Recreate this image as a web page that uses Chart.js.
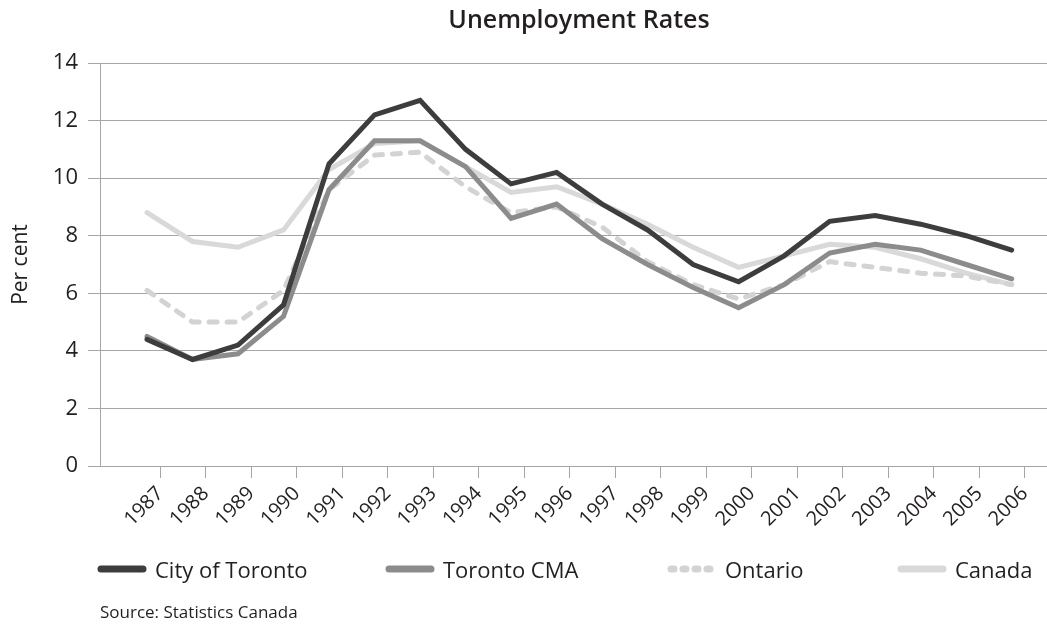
<!DOCTYPE html>
<html>
<head>
<meta charset="utf-8">
<title>Unemployment Rates</title>
<script src="https://cdn.jsdelivr.net/npm/chart.js@4.4.1/dist/chart.umd.min.js"></script>
<style>
    body { margin: 0; background: #fff; font-family: "Open Sans", sans-serif; color: #231f20; }
    .wrap { position: relative; width: 1047px; height: 624px; }
    #chartTitle { position: absolute; left: 111px; right: 0; top: 3px; text-align: center; font-size: 25px; font-weight: 600; line-height: 30px; }
    #legend { position: absolute; left: 97px; top: 554px; display: grid; grid-template-columns: 288px 282px 230px auto; }
    .legend-item { display: flex; align-items: center; font-size: 22px; line-height: 30px; white-space: nowrap; }
    .legend-item svg { margin-right: 8px; }
    #source { position: absolute; left: 100px; top: 600px; font-size: 17px; line-height: 24px; }
</style>
</head>
<body>
<div class="wrap">
    <canvas id="myChart" width="1047" height="624"></canvas>
    <div id="chartTitle">Unemployment Rates</div>
    <div id="legend"></div>
    <div id="source">Source: Statistics Canada</div>
</div>

<script>
    const years = [1987, 1988, 1989, 1990, 1991, 1992, 1993, 1994, 1995, 1996,
                   1997, 1998, 1999, 2000, 2001, 2002, 2003, 2004, 2005, 2006];
    const cityOfToronto = [4.4, 3.7, 4.2, 5.6, 10.5, 12.2, 12.7, 11.0, 9.8, 10.2,
                           9.1, 8.2, 7.0, 6.4, 7.3, 8.5, 8.7, 8.4, 8.0, 7.5];
    const torontoCMA = [4.5, 3.7, 3.9, 5.2, 9.6, 11.3, 11.3, 10.4, 8.6, 9.1,
                        7.9, 7.0, 6.2, 5.5, 6.3, 7.4, 7.7, 7.5, 7.0, 6.5];
    const ontario = [6.1, 5.0, 5.0, 6.1, 9.6, 10.8, 10.9, 9.7, 8.8, 9.0,
                     8.3, 7.1, 6.3, 5.8, 6.3, 7.1, 6.9, 6.7, 6.6, 6.3];
    const canada = [8.8, 7.8, 7.6, 8.2, 10.3, 11.2, 11.3, 10.4, 9.5, 9.7,
                    9.1, 8.4, 7.6, 6.9, 7.3, 7.7, 7.6, 7.2, 6.7, 6.3];
    const yTicks = [0, 2, 4, 6, 8, 10, 12, 14];

    // the year labels/ticks sit a little right of the data points in the original
    const TICK_SHIFT = 0.29;
    const GRID = '#a6a6a6';
    const TEXT = '#231f20';

    function points(values) {
        return values.map(function (v, i) { return { x: years[i], y: v }; });
    }

    function line(label, values, color, dash) {
        return {
            label: label,
            data: points(values),
            borderColor: color,
            backgroundColor: color,
            borderWidth: 5,
            borderDash: dash || [],
            borderCapStyle: 'round',
            pointRadius: 0,
            tension: 0,
            fill: false
        };
    }

    Chart.defaults.font.family = '"Open Sans", sans-serif';
    Chart.defaults.color = TEXT;

    var ctx = document.getElementById('myChart').getContext('2d');
    var myChart = new Chart(ctx, {
        type: 'line',
        data: {
            datasets: [
                line('City of Toronto', cityOfToronto, '#3d3d3d'),
                line('Toronto CMA', torontoCMA, '#8c8c8c'),
                line('Ontario', ontario, '#d3d3d3', [8, 10]),
                line('Canada', canada, '#d9d9d9')
            ]
        },
        options: {
            responsive: false,
            animation: false,
            layout: { padding: { top: 63, right: 0, bottom: 88, left: 0 } },
            plugins: {
                legend: { display: false },
                title: { display: false },
                tooltip: { enabled: false }
            },
            scales: {
                x: {
                    type: 'linear',
                    min: 1985.967,
                    max: 2006.776,
                    afterBuildTicks: function (scale) {
                        scale.ticks = years.map(function (y) { return { value: y + TICK_SHIFT }; });
                    },
                    afterFit: function (scale) { scale.height = 70; },
                    grid: { drawOnChartArea: false, drawTicks: true, tickLength: 12, color: GRID },
                    border: { color: GRID },
                    ticks: {
                        autoSkip: false,
                        minRotation: 45,
                        maxRotation: 45,
                        padding: 4,
                        font: { size: 20 },
                        callback: function (value, index) { return String(years[index]); }
                    }
                },
                y: {
                    min: yTicks[0],
                    max: yTicks[yTicks.length - 1],
                    afterFit: function (scale) { scale.width = 100; },
                    afterBuildTicks: function (scale) {
                        scale.ticks = yTicks.map(function (v) { return { value: v }; });
                    },
                    grid: { color: GRID, tickLength: 12 },
                    border: { color: GRID },
                    ticks: { padding: 10, font: { size: 22 } },
                    title: {
                        display: true,
                        text: 'Per cent',
                        font: { size: 21 },
                        padding: { top: 8, bottom: 0 }
                    }
                }
            }
        }
    });

    // html legend built from the chart's datasets
    var legend = document.getElementById('legend');
    myChart.data.datasets.forEach(function (ds) {
        var dash = ds.borderDash.length ? ' stroke-dasharray="3 9"' : '';
        var item = document.createElement('div');
        item.className = 'legend-item';
        item.innerHTML = '<svg width="50" height="10"><line x1="4" y1="5" x2="46" y2="5" stroke="' + ds.borderColor +
            '" stroke-width="7" stroke-linecap="round"' + dash + '/></svg><span>' + ds.label + '</span>';
        legend.appendChild(item);
    });
</script>
</body>
</html>
